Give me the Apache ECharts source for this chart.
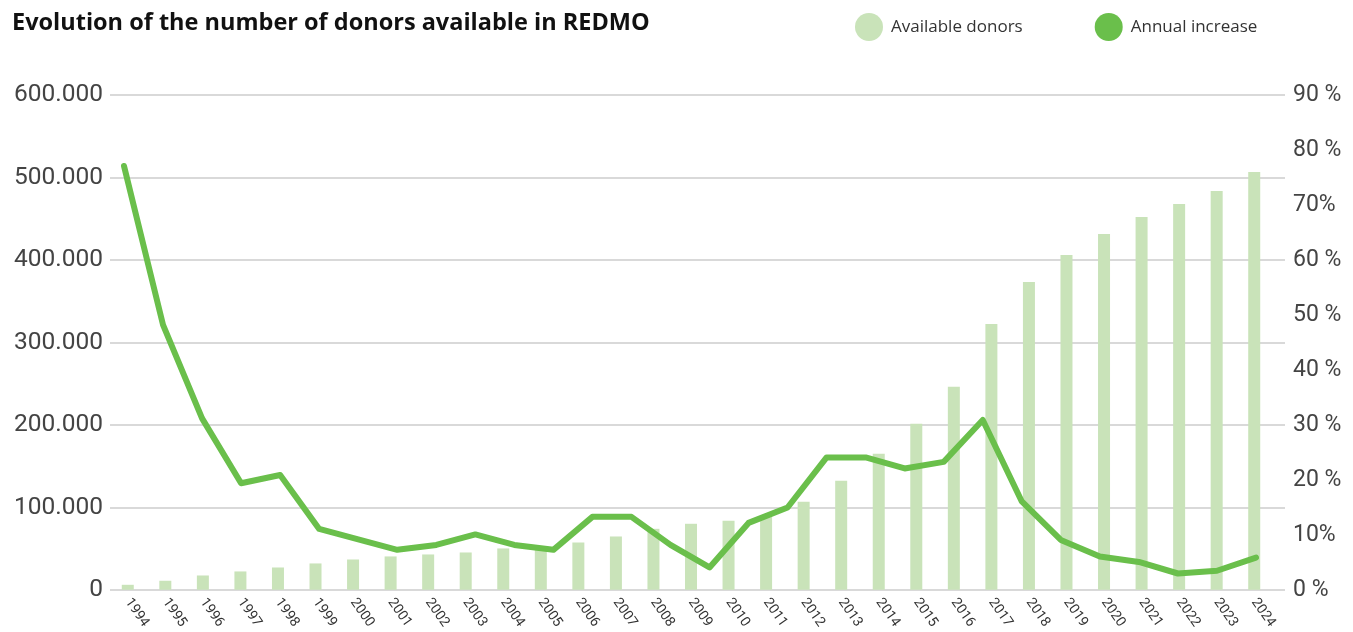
<!DOCTYPE html>
<html>
<head>
<meta charset="utf-8">
<script src="https://cdn.jsdelivr.net/npm/echarts@6/dist/echarts.min.js"></script>
<style>
html,body{margin:0;padding:0;background:#fff;}
#chart{width:1353px;height:632px;}
</style>
</head>
<body>
<div id="chart"></div>
<script>
// Data
const years = ['1994','1995','1996','1997','1998','1999','2000','2001','2002','2003','2004','2005','2006','2007','2008','2009','2010','2011','2012','2013','2014','2015','2016','2017','2018','2019','2020','2021','2022','2023','2024'];
const availableDonors = [6000,10900,17300,22200,27000,31900,36700,40400,42800,45200,50100,52000,57300,64600,73900,80000,83600,88100,106700,132100,164800,201400,246200,322400,373300,406100,431500,452100,467900,483600,506700];
const increaseYears = ['1995','1996','1997','1998','1999','2000','2001','2002','2003','2004','2005','2006','2007','2008','2009','2010','2011','2012','2013','2014','2015','2016','2017','2018','2019','2020','2021','2022','2023','2024'];
const annualIncrease = [77.1,48.2,31.2,19.4,20.9,11.1,9.2,7.3,8.2,10.1,8.2,7.3,13.3,13.3,8.2,4.1,12.2,15.0,24.1,24.1,22.1,23.3,30.9,16.1,9.1,6.1,5.1,3.0,3.5,5.9];
const leftTickLabels = ['0','100.000','200.000','300.000','400.000','500.000','600.000'];
const rightTickLabels = ['0 %','10%','20 %','30 %','40 %','50 %','60 %','70%','80 %','90 %'];

const chart = echarts.init(document.getElementById('chart'), null, {renderer:'canvas'});
const axisFont = 'Roboto, "Open Sans", sans-serif';
const option = {
  animation: false,
  backgroundColor: '#ffffff',
  title: {
    text: 'Evolution of the number of donors available in REDMO',
    left: 7, top: 6,
    textStyle: {fontFamily: '"Open Sans", sans-serif', fontWeight: 'bold', fontSize: 23.5, color: '#111'}
  },
  legend: {
    left: 850, top: 8,
    itemWidth: 28, itemHeight: 28, itemGap: 72,
    icon: 'circle',
    textStyle: {fontFamily: '"Open Sans", sans-serif', fontSize: 17, color: '#333', padding: [0,0,0,3]},
    data: ['Available donors','Annual increase']
  },
  grid: [
    {left: 109, right: 80, top: 95, bottom: 42},
    {left: 110, right: 68, top: 95, bottom: 42},
    {left: 124, right: 97, top: 95, bottom: 42}
  ],
  xAxis: [
    {type: 'category', gridIndex: 0, data: years, boundaryGap: true,
     axisLine: {show: false}, axisTick: {show: false},
     axisLabel: {interval: 0, rotate: -55, fontSize: 14, color: '#333', fontFamily: axisFont, margin: 10}},
    {type: 'value', gridIndex: 1, min: 0, max: 1, show: false},
    {type: 'category', gridIndex: 2, data: increaseYears, boundaryGap: false, show: false}
  ],
  yAxis: [
    {type: 'value', gridIndex: 0, min: 0, max: 600000, interval: 100000, show: false},
    {type: 'value', gridIndex: 1, min: 0, max: 600000, interval: 100000, position: 'left',
     axisLine: {show: false}, axisTick: {show: false},
     splitLine: {show: true, lineStyle: {color: '#d9d9d9', width: 2}},
     axisLabel: {margin: 7, fontSize: 24.5, color: '#444', fontFamily: axisFont,
       formatter: function(v){ return leftTickLabels[Math.round(v/100000)]; }}},
    {type: 'value', gridIndex: 1, min: 0, max: 90, interval: 10, position: 'right',
     axisLine: {show: false}, axisTick: {show: false}, splitLine: {show: false},
     axisLabel: {margin: 8, fontSize: 23, color: '#444', fontFamily: axisFont,
       formatter: function(v){ return rightTickLabels[Math.round(v/10)]; }}},
    {type: 'value', gridIndex: 2, min: 0, max: 90, interval: 10, show: false}
  ],
  series: [
    {name: 'Available donors', type: 'bar', xAxisIndex: 0, yAxisIndex: 0,
     data: availableDonors, barWidth: 12, itemStyle: {color: '#c9e3b9'}, z: 2},
    {name: 'Annual increase', type: 'line', xAxisIndex: 2, yAxisIndex: 3,
     data: annualIncrease, symbol: 'none', itemStyle: {color: '#6abf4b'},
     lineStyle: {color: '#6abf4b', width: 6, cap: 'round', join: 'round'}, z: 3}
  ]
};
chart.setOption(option);
</script>
</body>
</html>
